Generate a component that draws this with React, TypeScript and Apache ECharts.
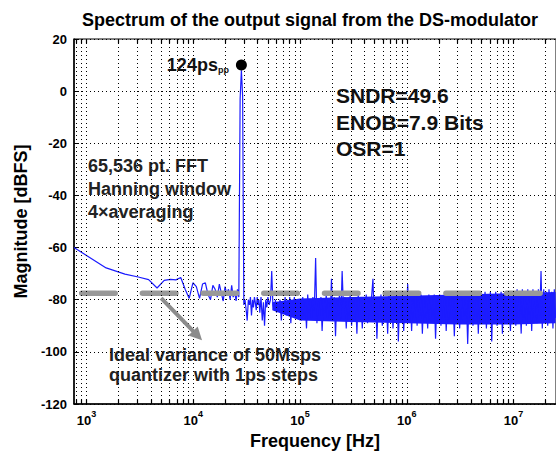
import React, { useEffect, useRef } from "react";
import * as echarts from "echarts";

const FONT = '"Liberation Sans", Arial, Helvetica, sans-serif';

// ---- Spectrum data: frequency (Hz) and magnitude (dBFS) ----
// low-frequency FFT bins (up to and around the test tone)
const freqLow = [763, 1526, 2289, 3052, 3815, 4578, 5341, 6104, 6866, 7629, 8392, 9155, 9918, 10681, 11444, 12207, 12970, 13733, 14496, 15259, 16022, 16785, 17548, 18311, 19074, 19836, 20599, 21362, 22125, 22888, 23651, 24414, 25177, 25940, 26703, 27466, 28229, 28992, 29755];
const magLow = [-60, -67.8, -70.2, -71.3, -72.3, -75.5, -72.6, -72.2, -72.4, -71.5, -76, -79.5, -73.5, -75, -79.5, -74, -73.5, -78, -80, -74.5, -76, -79, -74, -77.5, -80.5, -75, -78, -76, -80, -74.5, -79, -77, -80.5, -76, -79, -3, 8, -2, -82];

// 30 kHz - 100 kHz
const freqMid = [30500, 31300, 32000, 32800, 33600, 34300, 35100, 35900, 36600, 37400, 38100, 38900, 39700, 40400, 41200, 42000, 43100, 44300, 45400, 46500, 47700, 48800, 50000, 51400, 52900, 54300, 55700, 57200, 58800, 60300, 61800, 63300, 65000, 66800, 68700, 70600, 72500, 74400, 76300, 78200, 80100, 82000, 84000, 86200, 88500, 90800, 93000, 95300, 97700];
const magMid = [-80, -84, -88, -80, -82, -79, -86, -80, -83, -79, -81, -84, -79, -82, -80, -85, -79, -88, -81, -90, -80, -83, -79, -82, -80, -69, -82, -84, -80, -85, -81, -83, -80, -88, -81, -84, -79, -86, -80, -83, -79, -89, -81, -84, -79, -87, -80, -85, -81];

// 100 kHz - 1 MHz
const freqDec5 = [1e5, 1.03e5, 1.06e5, 1.09e5, 1.12e5, 1.15e5, 1.18e5, 1.21e5, 1.25e5, 1.28e5, 1.32e5, 1.36e5, 1.4e5, 1.44e5, 1.48e5, 1.52e5, 1.57e5, 1.61e5, 1.66e5, 1.71e5, 1.76e5, 1.81e5, 1.86e5, 1.92e5, 1.97e5, 2.03e5, 2.09e5, 2.15e5, 2.21e5, 2.28e5, 2.34e5, 2.41e5, 2.48e5, 2.56e5, 2.63e5, 2.71e5, 2.79e5, 2.87e5, 2.95e5, 3.04e5, 3.13e5, 3.22e5, 3.31e5, 3.41e5, 3.51e5, 3.61e5, 3.72e5, 3.83e5, 3.94e5, 4.05e5, 4.17e5, 4.29e5, 4.42e5, 4.55e5, 4.68e5, 4.82e5, 4.96e5, 5.1e5, 5.25e5, 5.41e5, 5.57e5, 5.73e5, 5.9e5, 6.07e5, 6.25e5, 6.43e5, 6.62e5, 6.81e5, 7.01e5, 7.22e5, 7.43e5, 7.65e5, 7.87e5, 8.1e5, 8.34e5, 8.58e5, 8.83e5, 9.09e5, 9.36e5, 9.63e5, 9.91e5];
const magDec5 = [-80, -88, -79, -86, -81, -91, -78, -85, -80, -87, -79, -84, -64, -89, -80, -86, -79, -92, -80, -85, -78, -87, -81, -86, -72, -88, -79, -94, -80, -86, -78, -88, -69, -85, -79, -91, -80, -86, -78, -90, -80, -87, -79, -93, -78, -86, -80, -91, -79, -87, -78, -89, -80, -86, -79, -72, -88, -79, -95, -80, -87, -78, -90, -80, -86, -79, -93, -78, -87, -80, -91, -79, -86, -78, -96, -80, -87, -79, -92, -80, -86];

// 1 MHz - 10 MHz
const freqDec6 = [1.02e6, 1.05e6, 1.08e6, 1.11e6, 1.14e6, 1.18e6, 1.21e6, 1.25e6, 1.28e6, 1.32e6, 1.36e6, 1.4e6, 1.44e6, 1.48e6, 1.52e6, 1.57e6, 1.61e6, 1.66e6, 1.71e6, 1.76e6, 1.81e6, 1.86e6, 1.92e6, 1.97e6, 2.03e6, 2.09e6, 2.15e6, 2.21e6, 2.28e6, 2.34e6, 2.41e6, 2.48e6, 2.56e6, 2.63e6, 2.71e6, 2.79e6, 2.87e6, 2.95e6, 3.04e6, 3.13e6, 3.22e6, 3.31e6, 3.41e6, 3.51e6, 3.61e6, 3.72e6, 3.83e6, 3.94e6, 4.05e6, 4.17e6, 4.29e6, 4.42e6, 4.55e6, 4.68e6, 4.82e6, 4.96e6, 5.1e6, 5.25e6, 5.41e6, 5.57e6, 5.73e6, 5.9e6, 6.07e6, 6.25e6, 6.43e6, 6.62e6, 6.81e6, 7.01e6, 7.22e6, 7.43e6, 7.65e6, 7.87e6, 8.1e6, 8.34e6, 8.58e6, 8.83e6, 9.09e6, 9.36e6, 9.63e6, 9.91e6];
const magDec6 = [-74, -88, -79, -92, -80, -87, -78, -90, -80, -86, -78, -93, -79, -87, -80, -91, -78, -88, -79, -86, -78, -95, -80, -87, -78, -90, -79, -87, -78, -92, -80, -88, -78, -86, -79, -94, -78, -87, -79, -91, -77, -88, -79, -86, -78, -97, -79, -87, -77, -90, -79, -87, -78, -93, -77, -88, -79, -86, -77, -91, -78, -88, -77, -96, -78, -87, -77, -90, -78, -86, -77, -93, -78, -88, -77, -87, -78, -92, -77, -88];

// 10 MHz - 25 MHz
const freqDec7 = [1.02e7, 1.05e7, 1.08e7, 1.11e7, 1.14e7, 1.18e7, 1.21e7, 1.25e7, 1.28e7, 1.32e7, 1.36e7, 1.4e7, 1.44e7, 1.48e7, 1.52e7, 1.57e7, 1.61e7, 1.66e7, 1.71e7, 1.76e7, 1.81e7, 1.86e7, 1.92e7, 1.97e7, 2.03e7, 2.09e7, 2.15e7, 2.21e7, 2.28e7, 2.34e7, 2.41e7, 2.48e7];
const magDec7 = [-77, -90, -76, -87, -78, -93, -76, -87, -77, -90, -76, -86, -77, -92, -76, -87, -77, -89, -76, -86, -69, -91, -76, -87, -77, -90, -76, -86, -77, -91, -76, -87];

// dense noise-floor core (where the FFT bins overlap into a solid band)
const bandFreq = [5.5e4, 1e5, 3e5, 1e6, 3e6, 1e7, 2.48e7];
const bandLow = [-84, -88, -88.5, -89, -89.5, -89.5, -89];
const bandHigh = [-81, -79.5, -79, -78.5, -78, -77.5, -77];

// ideal quantizer noise level (dBFS) and its span
const idealLevel = -77.5;
const idealSpan = [763, 2.5e7];

// peak marker
const peakPoint = [28229, 10];

// arrow annotation (from, to) in data units
const arrowFrom = [5000, -79.4];
const arrowTo = [10960, -93.8];

// axis settings
const xMin = 763;
const xMax = 2.5e7;
const yTicks = [-120, -100, -80, -60, -40, -20, 0, 20];
const gridFreqs = [800, 900, 1000, 2000, 3000, 4000, 5000, 6000, 7000, 8000, 9000, 1e4, 2e4, 3e4, 4e4, 5e4, 6e4, 7e4, 8e4, 9e4, 1e5, 2e5, 3e5, 4e5, 5e5, 6e5, 7e5, 8e5, 9e5, 1e6, 2e6, 3e6, 4e6, 5e6, 6e6, 7e6, 8e6, 9e6, 1e7, 2e7];

// texts
const titleText = "Spectrum of the output signal from the DS-modulator";
const xName = "Frequency [Hz]";
const yName = "Magnitude [dBFS]";
const statsLines = ["SNDR=49.6", "ENOB=7.9 Bits", "OSR=1"];
const fftLines = ["65,536 pt. FFT", "Hanning window", "4\u00D7averaging"];
const idealLines = ["Ideal variance of 50Msps", "quantizer with 1ps steps"];

const BLUE = "#1c1cff";

export default function App() {
  const ref = useRef<HTMLDivElement>(null);

  useEffect(() => {
    if (!ref.current) return;
    const chart = echarts.init(ref.current, null, { renderer: "svg" });

    const freqs = [...freqLow, ...freqMid, ...freqDec5, ...freqDec6, ...freqDec7];
    const mags = [...magLow, ...magMid, ...magDec5, ...magDec6, ...magDec7];
    const spectrum = freqs.map((f, i) => [f, mags[i]]);

    const yMin = yTicks[0];
    const yMax = yTicks[yTicks.length - 1];
    const tickLen = 1.7;

    const tickSegments: any[] = [];
    gridFreqs.forEach((f) => {
      tickSegments.push([{ coord: [f, yMin] }, { coord: [f, yMin + tickLen] }]);
      tickSegments.push([{ coord: [f, yMax] }, { coord: [f, yMax - tickLen] }]);
    });

    const textEl = (text: string, x: number, y: number, size: number, color = "#1a1a1a") => ({
      type: "text",
      x,
      y,
      silent: true,
      style: {
        text,
        fontSize: size,
        fontWeight: "bold",
        fontFamily: FONT,
        fill: color,
        verticalAlign: "middle",
        align: "left",
      },
    });

    const statsY = [95.5, 122, 148.5];
    const fftY = [166, 189, 211.5];
    const idealY = [355, 375];

    const graphics: any[] = [
      ...statsLines.map((t, i) => textEl(t, 336, statsY[i], 21, "#111")),
      ...fftLines.map((t, i) => textEl(t, 88, fftY[i], 18, "#222")),
      ...idealLines.map((t, i) => textEl(t, 109, idealY[i], 18, "#222")),
    ];

    const hidden = { opacity: 0 };

    chart.setOption({
      animation: false,
      backgroundColor: "#fff",
      textStyle: { fontFamily: FONT },
      title: {
        text: titleText,
        left: 77,
        top: 6,
        textStyle: { fontSize: 18, fontWeight: "bold", color: "#000", fontFamily: FONT },
      },
      grid: {
        left: 74,
        right: -5,
        top: 39,
        bottom: 52,
        show: true,
        borderColor: "#000",
        borderWidth: 1,
        backgroundColor: "transparent",
      },
      xAxis: {
        type: "log",
        logBase: 10,
        min: xMin,
        max: xMax,
        name: xName,
        nameLocation: "middle",
        nameGap: 25,
        nameTextStyle: { fontSize: 18, fontWeight: "bold", color: "#000", fontFamily: FONT },
        axisLine: { show: true, onZero: false, lineStyle: { color: "#000", width: 1.5 } },
        axisTick: { show: false },
        minorTick: { show: false },
        splitLine: { show: false },
        axisLabel: {
          showMinLabel: false,
          showMaxLabel: false,
          margin: 5,
          color: "#000",
          formatter: (v: number) => `{b|10}{s|${Math.round(Math.log10(v))}}`,
          rich: {
            b: { fontSize: 13, fontWeight: "bold", color: "#000", fontFamily: FONT },
            s: { fontSize: 9, fontWeight: "bold", color: "#000", fontFamily: FONT, padding: [0, 0, 14, 0] },
          },
        },
      },
      yAxis: {
        type: "value",
        min: yMin,
        max: yMax,
        interval: 20,
        name: yName,
        nameLocation: "middle",
        nameGap: 44,
        nameTextStyle: { fontSize: 18, fontWeight: "bold", color: "#000", fontFamily: FONT },
        axisLine: { show: true, onZero: false, lineStyle: { color: "#000", width: 1.5 } },
        axisTick: { show: true, inside: true, length: 4, lineStyle: { color: "#000", width: 1 } },
        axisLabel: { fontSize: 13, fontWeight: "bold", color: "#000", margin: 7, fontFamily: FONT },
        splitLine: { show: true, lineStyle: { color: "#000", type: [1, 3], width: 1 } },
      },
      series: [
        {
          name: "gridlines",
          type: "line",
          data: [[xMin, yMin]],
          showSymbol: false,
          lineStyle: hidden,
          silent: true,
          z: 1,
          markLine: {
            silent: true,
            symbol: ["none", "none"],
            label: { show: false },
            lineStyle: { color: "#000", type: [1, 3], width: 1 },
            emphasis: { disabled: true },
            data: gridFreqs.map((f) => ({ xAxis: f })),
          },
        },
        {
          name: "ticks",
          type: "line",
          data: [[xMin, yMin]],
          showSymbol: false,
          lineStyle: hidden,
          silent: true,
          z: 1,
          markLine: {
            silent: true,
            symbol: ["none", "none"],
            label: { show: false },
            lineStyle: { color: "#000", type: "solid", width: 1.2 },
            emphasis: { disabled: true },
            data: tickSegments,
          },
        },
        {
          name: "noiseCore",
          type: "custom",
          coordinateSystem: "cartesian2d",
          silent: true,
          z: 2,
          clip: true,
          data: [[bandFreq[0], bandLow[0]]],
          renderItem: (_params: any, api: any) => {
            const top = bandFreq.map((f, i) => api.coord([f, bandHigh[i]]));
            const bottom = bandFreq.map((f, i) => api.coord([f, bandLow[i]])).reverse();
            return {
              type: "polygon",
              shape: { points: [...top, ...bottom] },
              style: { fill: BLUE },
            };
          },
        },
        {
          name: "spectrum",
          type: "line",
          data: spectrum,
          showSymbol: false,
          silent: true,
          z: 3,
          lineStyle: { color: BLUE, width: 1.2 },
        },
        {
          name: "ideal",
          type: "line",
          data: [
            [idealSpan[0], idealLevel],
            [idealSpan[1], idealLevel],
          ],
          showSymbol: false,
          silent: true,
          z: 4,
          lineStyle: { color: "#999", width: 5.5, type: [33.5, 27.2], dashOffset: 52.5, cap: "round" },
          markLine: {
            silent: true,
            symbol: ["none", "triangle"],
            symbolSize: 13,
            label: { show: false },
            lineStyle: { color: "#8c8c8c", width: 4, type: "solid" },
            itemStyle: { color: "#8c8c8c" },
            emphasis: { disabled: true },
            data: [[{ coord: arrowFrom }, { coord: arrowTo }]],
          },
        },
        {
          name: "peak",
          type: "scatter",
          data: [peakPoint],
          symbolSize: 11,
          silent: true,
          z: 5,
          itemStyle: { color: "#000", opacity: 1 },
          label: {
            show: true,
            position: "left",
            distance: 7,
            opacity: 1,
            formatter: "{a|124ps}{p|pp}",
            rich: {
              a: { fontSize: 18, fontWeight: "bold", color: "#111", fontFamily: FONT },
              p: { fontSize: 9, fontWeight: "bold", color: "#111", fontFamily: FONT, padding: [9, 0, 0, 0] },
            },
          },
        },
      ],
      graphic: graphics,
    });

    return () => chart.dispose();
  }, []);

  return (
    <div
      ref={ref}
      style={{ position: "fixed", left: 0, top: 0, width: 556, height: 456, background: "#fff" }}
    />
  );
}
